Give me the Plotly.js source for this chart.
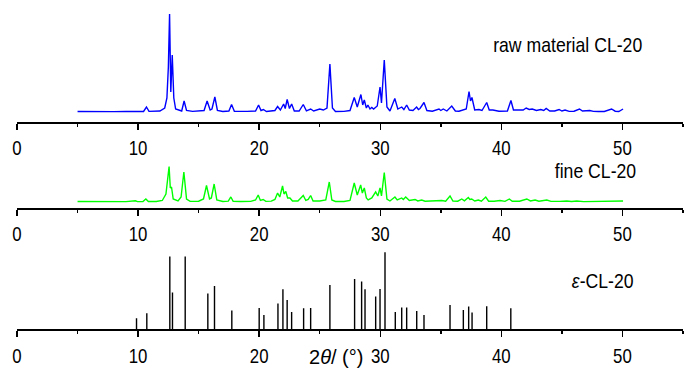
<!DOCTYPE html>
<html>
<head>
<meta charset="utf-8">
<script src="https://cdn.plot.ly/plotly-3.0.1.min.js"></script>
<style>html,body{margin:0;padding:0;background:#fff}#chart{width:700px;height:374px}</style>
</head>
<body>
<div id="chart"></div>
<script>
// raw material CL-20 (intensity, a.u.)
const rawX = [5.0,6.0,7.0,8.0,9.0,9.8,10.45,10.69,10.9,11.8,12.2,12.38,12.5,12.6,12.7,12.82,12.95,13.1,13.6,13.8,14.0,14.5,15.0,15.45,15.7,15.95,16.1,16.34,16.55,17.0,17.5,17.72,17.95,18.5,19.0,19.7,19.95,20.15,20.35,20.6,21.0,21.3,21.52,21.75,22.02,22.15,22.31,22.5,22.68,22.9,23.3,23.64,23.9,24.25,24.5,25.0,25.3,25.6,25.84,26.05,26.3,27.0,27.5,27.85,28.1,28.4,28.55,28.68,28.85,28.98,29.15,29.3,29.45,29.6,29.75,29.98,30.1,30.33,30.55,30.8,31.2,31.45,31.77,31.95,32.18,32.4,32.7,33.0,33.15,33.28,33.61,33.85,34.3,34.85,35.0,35.2,35.5,35.9,36.2,36.5,36.85,37.1,37.33,37.45,37.57,37.8,38.15,38.4,38.79,39.0,39.3,39.8,40.5,40.79,41.0,41.4,41.8,42.05,42.3,42.55,42.9,43.25,43.5,43.7,44.0,44.4,44.77,45.0,45.26,45.6,46.0,46.45,46.7,47.3,47.6,48.0,48.5,49.1,49.4,49.7,50.05];
const rawY = [0.5,0.3,0.6,0.4,0.5,0.9,0.5,5,0.6,1.0,4,14,45,98,20,57,14,3,1,11,1.5,0.6,0.8,1.5,11,2,3,15,1.5,0.5,1,7.5,0.8,0.5,0.6,1,7,1.5,2.5,0.5,0.8,1.5,5.5,2,8,3.5,12.5,3.5,8,1,1,7.5,1.2,3,1,3,2,4,48,4,0.5,0.6,1.5,14.5,5,17.5,7,12,4,7,3,4.5,3,5,6,25,9,52,5,1,13.5,3,5,2.5,7,2,1.5,5,2.5,3.5,9.5,1.5,0.8,3,1.5,3,1,6,1,0.8,2.5,3,20.5,11,14.5,2,2.5,1.5,9.5,2,2,0.8,1,11.5,2,2,2,4,2.5,3,1.5,2.5,1.5,3.5,1,1,2.5,1,2,0.6,0.8,3,1,1.5,0.6,0.5,0.5,3,0.8,0.5,3];

// fine CL-20
const fineX = [5.0,6.0,7.0,8.0,9.0,9.78,9.95,10.4,10.64,10.85,11.5,12.0,12.3,12.56,12.66,12.76,12.9,13.3,13.55,13.78,14.0,14.3,15.0,15.4,15.65,15.9,16.05,16.28,16.5,17.0,17.45,17.66,17.85,18.5,19.3,19.7,19.92,20.1,20.33,20.55,21.0,21.3,21.52,21.7,21.93,22.05,22.2,22.35,22.54,22.75,23.2,23.64,23.85,24.05,24.25,24.45,25.0,25.5,25.79,26.0,26.3,27.0,27.5,27.85,28.1,28.38,28.52,28.68,28.85,29.0,29.3,29.62,29.8,29.98,30.1,30.33,30.55,30.8,31.21,31.4,31.77,31.9,32.1,32.4,32.87,33.1,33.42,33.7,34.1,34.5,35.07,35.4,35.76,36.0,36.4,36.73,36.95,37.27,37.4,37.55,37.8,38.1,38.35,38.71,38.95,39.4,39.89,40.3,40.66,40.9,41.5,42.1,42.4,42.79,43.1,43.75,44.1,44.8,45.4,45.8,46.23,46.8,47.5,48.3,49.2,49.6,50.05];
const fineY = [0.5,0.3,0.5,0.4,0.4,1.2,0.4,0.5,3,0.5,0.5,1.5,8,35.5,14,15,3,1,5,30,3,0.6,0.8,3,16.5,3,4,18,2,0.5,0.8,5,0.6,0.5,0.6,2,7,1.5,2.5,0.6,0.8,2.5,9,5,16,8,10.5,4,4,1,1,6.5,1.5,2.5,6.5,1,1,2,20,2,0.5,0.5,1.5,19,7,17,9,14,4,2,4,10,6,14,6,29.5,3,1,5,2,4,2.5,5,1.5,2.5,1,2,0.8,1,0.6,1.5,0.8,6,1,0.8,3,1.2,4.5,2.5,3,1,2,0.8,5,0.8,0.8,1.5,0.6,3,0.7,0.7,3,1,2,0.8,2,0.6,0.6,1,0.5,1,0.4,0.5,0.4,1,0.5,1];

// ε-CL-20 reference pattern (stick positions and intensities)
const epsPos = [9.87,10.72,12.62,12.84,13.89,15.76,16.31,17.74,20.0,20.39,21.55,21.96,22.31,22.68,23.67,24.25,25.84,27.88,28.46,28.74,29.62,29.98,30.39,31.24,31.77,32.18,33.01,33.61,35.76,36.86,37.3,37.58,38.79,40.78];
const epsInt = [11,16,72.7,36.7,72.7,35.7,43.3,18.7,21.3,14.3,25.7,40,29.3,17.3,21,21.3,44.3,50.3,47.7,40,32.7,40.3,77,17.3,21.7,21.7,18.3,14.3,24.3,19.3,22.7,16.7,23,21];

const tickVals = [0,10,20,30,40,50];
const tickText = ['0','10','20','30','40','50'];
const labels = ['raw material CL-20','fine CL-20','<i>ε</i>-CL-20'];
const xTitle = '2<i>θ</i>/ (°)';

const stX = [], stY = [];
epsPos.forEach((p,i)=>{ stX.push(p,p,null); stY.push(0,epsInt[i],null); });

const FONT = '"Liberation Sans", Arial, sans-serif';

const traces = [
  {x: rawX, y: rawY, type:'scatter', mode:'lines', line:{color:'#0000ff', width:1.4}, xaxis:'x', yaxis:'y', hoverinfo:'skip'},
  {x: fineX, y: fineY, type:'scatter', mode:'lines', line:{color:'#00ff00', width:1.4}, xaxis:'x2', yaxis:'y2', hoverinfo:'skip'},
  {x: stX, y: stY, type:'scatter', mode:'lines', line:{color:'#000000', width:1.4}, xaxis:'x3', yaxis:'y3', hoverinfo:'skip', connectgaps:false}
];

function xa(anchor){
  return {
    anchor: anchor, range:[0,55], showgrid:false, zeroline:false,
    showline:true, linecolor:'#000', linewidth:2,
    ticks:'outside', ticklen:6, tickwidth:1.5, tickcolor:'#000',
    tickmode:'array', tickvals:tickVals, ticktext:tickText,
    tickfont:{family:FONT, size:21, color:'#000'},
    minor:{dtick:5, tick0:0, ticks:'outside', ticklen:3, tickwidth:1.5, tickcolor:'#000', showgrid:false},
    fixedrange:true
  };
}
function ya(domain, range){
  return {domain:domain, range:range, visible:false, showgrid:false, zeroline:false, fixedrange:true};
}

const annFont = {family:FONT, size:21, color:'#000'};
const layout = {
  width:700, height:374,
  margin:{l:17, r:17, t:0, b:0, pad:0},
  paper_bgcolor:'#fff', plot_bgcolor:'rgba(0,0,0,0)',
  showlegend:false,
  xaxis: xa('y'), yaxis: ya([0.6738,1],[-10,112]),
  xaxis2: xa('y2'), yaxis2: ya([0.4439,0.6],[-6,52.4]),
  xaxis3: xa('y3'), yaxis3: ya([0.1195,0.40],[0,104.9]),
  annotations:[
    {text:labels[0], xref:'paper', yref:'paper', x:0.8266, y:0.8797, xanchor:'center', yanchor:'middle', showarrow:false, font:annFont},
    {text:labels[1], xref:'paper', yref:'paper', x:0.8679, y:0.5436, xanchor:'center', yanchor:'middle', showarrow:false, font:annFont},
    {text:labels[2], xref:'paper', yref:'paper', x:0.8791, y:0.2513, xanchor:'center', yanchor:'middle', showarrow:false, font:annFont},
    {text:xTitle, xref:'paper', yref:'paper', x:0.4797, y:0.0463, xanchor:'center', yanchor:'middle', showarrow:false, font:{family:FONT, size:20, color:'#000'}}
  ]
};

// condense text horizontally (reference uses a narrow sans face)
function squeeze(sel, ratio){
  document.querySelectorAll(sel).forEach(t=>{
    if (t.textContent.indexOf('θ') >= 0) return;
    const L = t.getComputedTextLength();
    if (L > 0) {
      t.setAttribute('textLength', (L*ratio).toFixed(2));
      t.setAttribute('lengthAdjust','spacingAndGlyphs');
    }
  });
}

Plotly.newPlot('chart', traces, layout, {staticPlot:true, displayModeBar:false}).then(()=>{
  squeeze('.xtick text, .x2tick text, .x3tick text', 0.8);
  squeeze('.annotation-text', 0.84);
});
</script>
</body>
</html>
